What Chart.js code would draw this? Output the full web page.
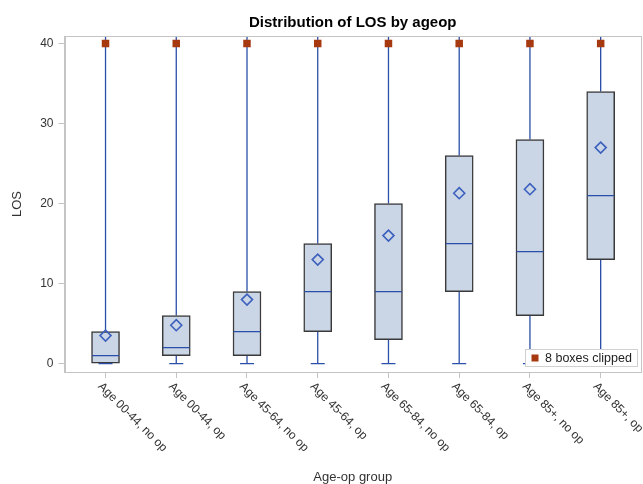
<!DOCTYPE html>
<html>
<head>
<meta charset="utf-8">
<title>Distribution of LOS by ageop</title>
<script src="https://cdn.jsdelivr.net/npm/chart.js@4/dist/chart.umd.min.js"></script>
<style>
  html, body { margin: 0; padding: 0; background: #ffffff; }
  #wrap { width: 643px; height: 484px; }
</style>
</head>
<body>
<div id="wrap"><canvas id="c" width="643" height="484"></canvas></div>
<script>
// Length-of-stay summary statistics per age/operation group
const categories = [
  'Age 00-44, no op', 'Age 00-44, op', 'Age 45-64, no op', 'Age 45-64, op',
  'Age 65-84, no op', 'Age 65-84, op', 'Age 85+, no op', 'Age 85+, op'
];
const whiskerLow = [0, 0, 0, 0, 0, 0, 0, 0];
const q1         = [0, 1, 1, 4, 3, 9, 6, 13];
const median     = [1, 2, 4, 9, 9, 15, 14, 21];
const q3         = [4, 6, 9, 15, 20, 26, 28, 34];
const mean       = [3.5, 4.8, 8, 13, 16, 21.3, 21.8, 27];
// upper whiskers run past the axis limit and are clipped there
const clipped    = [true, true, true, true, true, true, true, true];
const clipValue  = 40;
const yTicks     = [0, 10, 20, 30, 40];

const titleText  = 'Distribution of LOS by ageop';
const xTitleText = 'Age-op group';
const yTitleText = 'LOS';

const FONT = '"Liberation Sans", Arial, Helvetica, sans-serif';
Chart.defaults.font.family = FONT;

const C = {
  frame: '#C4C4C4',
  text: '#333333',
  boxFill: '#CAD5E5',
  boxLine: '#3A3A3A',
  whisker: '#2A4FA8',
  mean: '#3B60BE',
  clip: '#A6390F'
};

const nClipped = clipped.filter(Boolean).length;
const idx = categories.map((_, i) => i);

// whiskers under the boxes, frame, titles, rotated category labels and clip legend
const boxExtras = {
  id: 'boxExtras',
  beforeDatasetsDraw(chart) {
    const { ctx, chartArea: a, scales: { x, y } } = chart;
    ctx.save();
    ctx.beginPath();
    ctx.rect(a.left, a.top, a.right - a.left, a.bottom - a.top);
    ctx.clip();
    ctx.strokeStyle = C.whisker;
    ctx.lineWidth = 1.3;
    idx.forEach(i => {
      const px = x.getPixelForValue(i);
      const top = clipped[i] ? a.top : y.getPixelForValue(clipValue);
      ctx.beginPath();
      ctx.moveTo(px, y.getPixelForValue(q3[i]));
      ctx.lineTo(px, top);
      ctx.moveTo(px, y.getPixelForValue(q1[i]));
      ctx.lineTo(px, y.getPixelForValue(whiskerLow[i]));
      ctx.stroke();
    });
    ctx.restore();
  },
  afterDraw(chart) {
    const { ctx, chartArea: a, scales: { x } } = chart;
    ctx.save();
    // plot frame
    ctx.strokeStyle = C.frame;
    ctx.lineWidth = 1;
    ctx.strokeRect(Math.round(a.left) + 0.5, Math.round(a.top) + 0.5,
                   Math.round(a.right - a.left) - 1, Math.round(a.bottom - a.top));

    const cx = (a.left + a.right) / 2;
    // title
    ctx.fillStyle = '#000000';
    ctx.font = 'bold 15px ' + FONT;
    ctx.textAlign = 'center';
    ctx.textBaseline = 'alphabetic';
    ctx.fillText(titleText, cx, 27);

    // axis titles
    ctx.fillStyle = C.text;
    ctx.font = '13px ' + FONT;
    ctx.fillText(xTitleText, cx, 481);
    ctx.save();
    ctx.translate(21, (a.top + a.bottom) / 2);
    ctx.rotate(-Math.PI / 2);
    ctx.fillText(yTitleText, 0, 0);
    ctx.restore();

    // category labels, rotated 45 degrees clockwise
    ctx.font = '12px ' + FONT;
    ctx.textAlign = 'left';
    idx.forEach(i => {
      const px = x.getPixelForValue(i);
      ctx.save();
      ctx.translate(px - 8, a.bottom + 15);
      ctx.rotate(Math.PI / 4);
      ctx.fillText(categories[i], 0, 0);
      ctx.restore();
    });

    // clip legend
    const lx = 525.5, ly = 349.5, lw = 112, lh = 17;
    ctx.fillStyle = '#ffffff';
    ctx.fillRect(lx, ly, lw, lh);
    ctx.strokeStyle = '#D0D0D0';
    ctx.strokeRect(lx, ly, lw, lh);
    ctx.fillStyle = C.clip;
    ctx.fillRect(lx + 6, ly + 5, 7, 7);
    ctx.fillStyle = '#222222';
    ctx.font = '12.5px ' + FONT;
    ctx.textBaseline = 'middle';
    ctx.fillText(nClipped + ' boxes clipped', lx + 19.5, ly + lh / 2 + 0.5);
    ctx.restore();
  }
};

new Chart(document.getElementById('c'), {
  data: {
    datasets: [
      {
        type: 'bar',
        label: 'Q1-Q3',
        data: idx.map(i => ({ x: i, y: [q1[i], q3[i]] })),
        backgroundColor: C.boxFill,
        borderColor: C.boxLine,
        borderWidth: 1.5,
        borderSkipped: false,
        barThickness: 28,
        order: 4
      },
      {
        type: 'scatter',
        label: 'Median',
        data: idx.map(i => ({ x: i, y: median[i] })),
        pointStyle: 'line',
        radius: 13.5,
        borderColor: C.whisker,
        borderWidth: 1.3,
        order: 3
      },
      {
        type: 'scatter',
        label: 'Whisker end',
        data: idx.map(i => ({ x: i, y: whiskerLow[i] })),
        pointStyle: 'line',
        radius: 7,
        borderColor: C.whisker,
        borderWidth: 1.3,
        order: 3
      },
      {
        type: 'scatter',
        label: 'Mean',
        data: idx.map(i => ({ x: i, y: mean[i] })),
        pointStyle: 'rectRot',
        radius: 5.5,
        backgroundColor: 'rgba(0,0,0,0)',
        borderColor: C.mean,
        borderWidth: 1.6,
        order: 2
      },
      {
        type: 'scatter',
        label: nClipped + ' boxes clipped',
        data: idx.filter(i => clipped[i]).map(i => ({ x: i, y: clipValue })),
        pointStyle: 'rect',
        radius: 5.3,
        backgroundColor: C.clip,
        borderColor: C.clip,
        borderWidth: 0,
        order: 1
      }
    ]
  },
  options: {
    responsive: false,
    animation: false,
    devicePixelRatio: 1,
    events: [],
    layout: { autoPadding: false, padding: { top: 36, right: 2, left: 0, bottom: 0 } },
    plugins: {
      legend: { display: false },
      title: { display: false },
      tooltip: { enabled: false }
    },
    scales: {
      x: {
        type: 'linear',
        offset: false,
        min: -0.58,
        max: 7.57,
        afterBuildTicks: s => { s.ticks = idx.map(v => ({ value: v })); },
        afterFit: s => { s.height = 112; },
        ticks: { display: false },
        grid: { offset: false, drawOnChartArea: false, drawTicks: true, tickLength: 6, color: C.frame },
        border: { display: true, color: C.frame }
      },
      y: {
        type: 'linear',
        min: -1.05,
        max: 40.95,
        afterBuildTicks: s => { s.ticks = yTicks.map(v => ({ value: v })); },
        afterFit: s => { s.width = 64.5; },
        ticks: { color: C.text, font: { size: 12 }, padding: 5 },
        grid: { drawOnChartArea: false, drawTicks: true, tickLength: 6, color: C.frame },
        border: { display: true, color: C.frame }
      }
    }
  },
  plugins: [boxExtras]
});
</script>
</body>
</html>
